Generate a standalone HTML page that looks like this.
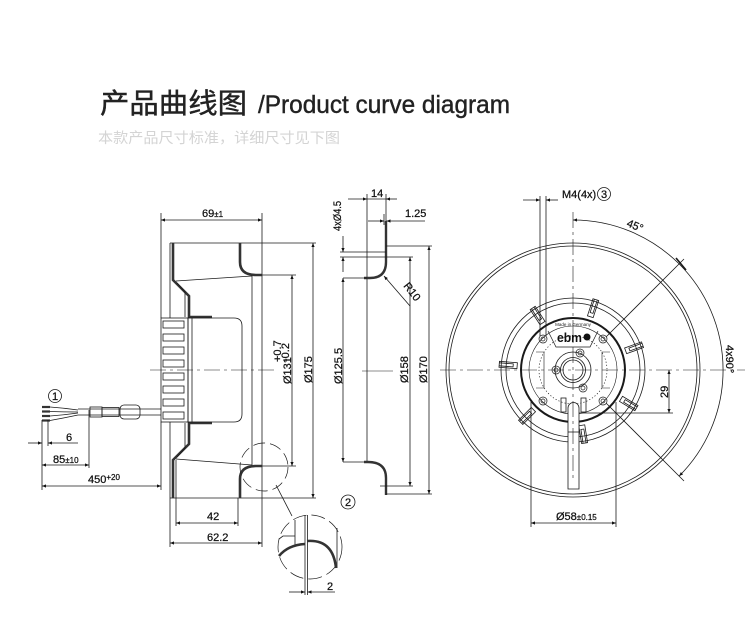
<!DOCTYPE html>
<html><head><meta charset="utf-8">
<style>
html,body{margin:0;padding:0;background:#fff;}
svg{display:block}
.t{font-family:"Liberation Sans","Noto Sans CJK SC",sans-serif;}
.d{font-family:"Liberation Sans",sans-serif;font-size:11px;fill:#111;stroke:#111;stroke-width:0.25px;}
</style></head>
<body>
<svg width="750" height="633" viewBox="0 0 750 633" xmlns="http://www.w3.org/2000/svg">
<defs>
<marker id="a" viewBox="0 0 10 10" refX="10" refY="5" markerWidth="7" markerHeight="4" orient="auto-start-reverse" markerUnits="userSpaceOnUse"><path d="M0,1 L10,5 L0,9z" fill="#111"/></marker>
</defs>

<!-- Title -->
<text class="t" x="100" y="113" font-size="28" fill="#222" stroke="#222" stroke-width="0.4" textLength="147" lengthAdjust="spacingAndGlyphs">产品曲线图</text>
<text class="t" x="258" y="113" font-size="25" fill="#222" stroke="#222" stroke-width="0.4" textLength="252" lengthAdjust="spacingAndGlyphs">/Product curve diagram</text>
<text class="t" x="98" y="143" font-size="14.5" fill="#d4d4d4" textLength="242" lengthAdjust="spacingAndGlyphs">本款产品尺寸标准，详细尺寸见下图</text>

<g stroke="#1a1a1a" stroke-width="0.8" fill="none">
<!-- ===== LEFT DRAWING ===== -->
<line x1="161" y1="220" x2="262" y2="220" marker-start="url(#a)" marker-end="url(#a)"/>
<line x1="161" y1="213" x2="161" y2="318"/>
<line x1="161" y1="422" x2="161" y2="490"/>
<line x1="262" y1="213" x2="262" y2="547"/>
<line x1="252" y1="276" x2="252" y2="465"/>
<line x1="170" y1="243" x2="170" y2="318"/>
<line x1="170" y1="422" x2="170" y2="547"/>
<line x1="176" y1="460" x2="176" y2="526"/>
<line x1="238" y1="498" x2="238" y2="526"/>
<line x1="170" y1="243" x2="316" y2="243"/>
<line x1="170" y1="498" x2="316" y2="498"/>
<path d="M173,243 L173,280 L189,296 L189,317 L212,317" stroke-width="2.6" stroke="#333"/>
<path d="M173,498 L173,460 L189,444 L189,423 L212,423" stroke-width="2.6" stroke="#333"/>
<path d="M177,283 L185,292 L185,317"/>
<path d="M177,457 L185,448 L185,423"/>
<path d="M240,243 L240,262 Q240,275 256,275 L262,275" stroke-width="2.6" stroke="#333"/>
<path d="M240,498 L240,479 Q240,466 256,466 L262,466" stroke-width="2.6" stroke="#333"/>
<line x1="262" y1="275" x2="296" y2="275"/>
<line x1="262" y1="466" x2="296" y2="466"/>
<line x1="176" y1="281" x2="252" y2="276"/>
<line x1="176" y1="459" x2="252" y2="465"/>
<path d="M188,318 L234,318 Q242,318 242,326 L242,414 Q242,422 234,422 L188,422 Z"/>
<line x1="192" y1="318" x2="192" y2="422"/>
<rect x="161" y="318" width="27" height="104"/>
<rect x="163" y="321" width="21" height="7"/>
<rect x="163" y="334" width="21" height="7"/>
<rect x="163" y="347" width="21" height="7"/>
<rect x="163" y="360" width="21" height="7"/>
<rect x="163" y="373" width="21" height="7"/>
<rect x="163" y="386" width="21" height="7"/>
<rect x="163" y="399" width="21" height="7"/>
<rect x="163" y="412" width="21" height="7"/>
<line x1="292" y1="275" x2="292" y2="466" marker-start="url(#a)" marker-end="url(#a)"/>
<line x1="313" y1="243" x2="313" y2="498" marker-start="url(#a)" marker-end="url(#a)"/>
<line x1="150" y1="370" x2="276" y2="370" stroke-dasharray="16 4 3 4" stroke-width="0.6"/>
<circle cx="264" cy="467" r="24" stroke-dasharray="12 5" stroke-width="0.7"/>
<line x1="276" y1="485" x2="292" y2="516"/>
<line x1="176" y1="523" x2="238" y2="523" marker-start="url(#a)" marker-end="url(#a)"/>
<line x1="170" y1="543" x2="262" y2="543" marker-start="url(#a)" marker-end="url(#a)"/>

<!-- wires -->
<circle cx="55" cy="396" r="6.5"/>
<g stroke-width="2.2" stroke="#333">
<line x1="42" y1="407" x2="50" y2="407"/>
<line x1="42" y1="411.5" x2="50" y2="411.5"/>
<line x1="42" y1="416" x2="50" y2="416"/>
<line x1="42" y1="420.5" x2="50" y2="420.5"/>
</g>
<path d="M50,407 Q64,408 78,410 M50,411.5 Q64,412 78,412 M50,416 Q64,415 78,413 M50,420.5 Q64,418 78,415"/>
<line x1="78" y1="409" x2="161" y2="409"/>
<line x1="78" y1="415" x2="161" y2="415"/>
<rect x="90" y="407" width="12" height="10"/>
<rect x="102" y="407.5" width="17" height="9"/>
<rect x="120" y="405" width="20" height="14" rx="4"/>
<line x1="42" y1="420" x2="42" y2="490"/>
<line x1="48" y1="420" x2="48" y2="446"/>
<line x1="89" y1="410" x2="89" y2="468"/>
<line x1="28" y1="443" x2="42" y2="443" marker-end="url(#a)"/>
<line x1="78" y1="443" x2="48" y2="443" marker-end="url(#a)"/>
<line x1="42" y1="465" x2="89" y2="465" marker-start="url(#a)" marker-end="url(#a)"/>
<line x1="42" y1="486" x2="161" y2="486" marker-start="url(#a)" marker-end="url(#a)"/>

<!-- detail 2 -->
<circle cx="310" cy="547" r="32" stroke-dasharray="14 5" stroke-width="0.7"/>
<line x1="295" y1="520" x2="295" y2="545"/>
<line x1="305" y1="515" x2="305" y2="595"/>
<line x1="307.5" y1="515" x2="307.5" y2="595"/>
<line x1="337" y1="528" x2="337" y2="568"/>
<path d="M279,556 Q288,545 305,544" stroke-width="2.6" stroke="#333"/>
<path d="M307,541 Q333,539 336,568" stroke-width="2.6" stroke="#333"/>
<path d="M279,539 L283,536 L295,536"/>
<line x1="289" y1="592" x2="305" y2="592" marker-end="url(#a)"/>
<line x1="335" y1="592" x2="307.5" y2="592" marker-end="url(#a)"/>

<!-- ===== MIDDLE DRAWING ===== -->
<line x1="367" y1="194" x2="367" y2="462"/>
<line x1="386" y1="194" x2="386" y2="222"/>
<line x1="384" y1="214" x2="384" y2="225"/>
<line x1="348" y1="199" x2="367" y2="199" marker-end="url(#a)"/>
<line x1="397" y1="199" x2="386" y2="199" marker-end="url(#a)"/>
<line x1="367" y1="199" x2="386" y2="199"/>
<line x1="368" y1="221" x2="384" y2="221" marker-end="url(#a)"/>
<line x1="425" y1="221" x2="386.5" y2="221" marker-end="url(#a)"/>
<path d="M386,221 L386,262 Q386,278 370,278 L364,278" stroke-width="2.4" stroke="#333"/>
<line x1="343" y1="278" x2="367" y2="278"/>
<line x1="386" y1="246" x2="432" y2="246"/>
<line x1="340" y1="252" x2="386" y2="252"/>
<line x1="340" y1="257" x2="413" y2="257"/>
<line x1="343" y1="236" x2="343" y2="252" marker-end="url(#a)"/>
<line x1="343" y1="272" x2="343" y2="257" marker-end="url(#a)"/>
<line x1="343" y1="278" x2="343" y2="462" marker-start="url(#a)" marker-end="url(#a)"/>
<line x1="343" y1="462" x2="368" y2="462"/>
<path d="M364,462 L368,462 Q386,462 386,478 L386,495" stroke-width="2.4" stroke="#333"/>
<line x1="380" y1="486" x2="413" y2="486"/>
<line x1="386" y1="494" x2="432" y2="494"/>
<line x1="410" y1="257" x2="410" y2="486" marker-start="url(#a)" marker-end="url(#a)"/>
<line x1="429" y1="246" x2="429" y2="494" marker-start="url(#a)" marker-end="url(#a)"/>
<line x1="410" y1="306" x2="384" y2="276" marker-end="url(#a)"/>
<line x1="362" y1="371" x2="393" y2="371" stroke-width="0.6"/>
<circle cx="348" cy="502" r="7"/>

<!-- ===== RIGHT DRAWING ===== -->
<circle cx="573" cy="370" r="127"/>
<circle cx="573" cy="370" r="124"/>
<circle cx="573" cy="370" r="72"/>
<circle cx="573" cy="370" r="67"/>
<circle cx="573" cy="370" r="52" stroke-width="2"/>
<circle cx="573" cy="370" r="44" stroke-width="0.6"/>
<circle cx="573" cy="370" r="34" stroke-width="0.7" stroke-dasharray="1.2 2"/>
<circle cx="573" cy="370" r="18"/>
<circle cx="573" cy="370" r="12.5"/>
<circle cx="573" cy="370" r="10"/>
<path d="M548,331 L556,347 L590,347 L598,331" stroke-width="0.7"/>
<path d="M536,352 L544,352 L544,388 L536,388" stroke-width="0.6"/>
<path d="M610,352 L602,352 L602,388 L610,388" stroke-width="0.6"/>
<g stroke-width="0.7">
<circle cx="580" cy="353" r="4"/><circle cx="580" cy="353" r="2"/>
<circle cx="556" cy="370" r="4"/><circle cx="556" cy="370" r="2"/>
<circle cx="583" cy="388" r="4"/><circle cx="583" cy="388" r="2"/>
<circle cx="543" cy="339" r="4"/><circle cx="543" cy="339" r="2"/>
<circle cx="603" cy="339" r="4"/><circle cx="603" cy="339" r="2"/>
<circle cx="543" cy="401" r="4"/><circle cx="543" cy="401" r="2"/>
<circle cx="603" cy="401" r="4"/><circle cx="603" cy="401" r="2"/>
</g>
<!-- slots -->
<g transform="translate(573,370)" stroke-width="0.8">
<g transform="rotate(-175.6)"><rect x="56" y="-3" width="18" height="6"/><path d="M74,-1.5 L60,-1.5 L60,1.5 L74,1.5"/></g>
<g transform="rotate(-123)"><rect x="56" y="-3" width="18" height="6"/><path d="M74,-1.5 L60,-1.5 L60,1.5 L74,1.5"/></g>
<g transform="rotate(-72)"><rect x="56" y="-3" width="18" height="6"/><path d="M74,-1.5 L60,-1.5 L60,1.5 L74,1.5"/></g>
<g transform="rotate(-20)"><rect x="56" y="-3" width="18" height="6"/><path d="M74,-1.5 L60,-1.5 L60,1.5 L74,1.5"/></g>
<g transform="rotate(31)"><rect x="56" y="-3" width="18" height="6"/><path d="M74,-1.5 L60,-1.5 L60,1.5 L74,1.5"/></g>
<g transform="rotate(81)"><rect x="56" y="-3" width="18" height="6"/><path d="M74,-1.5 L60,-1.5 L60,1.5 L74,1.5"/></g>
<g transform="rotate(135)"><rect x="56" y="-3" width="18" height="6"/><path d="M74,-1.5 L60,-1.5 L60,1.5 L74,1.5"/></g>
</g>
<!-- cable -->
<path d="M568,489 L568,408 A5.5,5.5 0 0 1 579,408 L579,489 Z" fill="#fff"/>
<line x1="568" y1="432" x2="579" y2="432"/>
<rect x="561" y="398" width="5" height="14"/>
<rect x="581" y="398" width="5" height="14"/>
<!-- centerlines -->
<line x1="573" y1="212" x2="573" y2="478" stroke-dasharray="16 4 3 4" stroke-width="0.6"/>
<line x1="440" y1="370" x2="745" y2="370" stroke-dasharray="16 4 3 4" stroke-width="0.6"/>
<!-- M4 -->
<line x1="540" y1="196" x2="540" y2="336"/>
<line x1="546" y1="196" x2="546" y2="336"/>
<line x1="523" y1="200" x2="540" y2="200" marker-end="url(#a)"/>
<line x1="558" y1="200" x2="546" y2="200" marker-end="url(#a)"/>
<circle cx="604" cy="194" r="6.5"/>
<!-- angle arcs -->
<path d="M679.1,263.9 A150,150 0 0 0 573,220" marker-end="url(#a)"/>
<path d="M679.1,263.9 A150,150 0 0 1 679.1,476.1" marker-end="url(#a)"/>
<line x1="676" y1="258" x2="686" y2="270" stroke-width="1.6"/>
<line x1="606" y1="337" x2="684" y2="259"/>
<line x1="606" y1="403" x2="684" y2="481"/>
<!-- 29 -->
<line x1="579" y1="413" x2="673" y2="413"/>
<line x1="669" y1="370" x2="669" y2="413" marker-start="url(#a)" marker-end="url(#a)"/>
<!-- 58 -->
<line x1="531" y1="402" x2="531" y2="527"/>
<line x1="616" y1="402" x2="616" y2="527"/>
<line x1="531" y1="523" x2="616" y2="523" marker-start="url(#a)" marker-end="url(#a)"/>
</g>

<!-- logo -->
<text class="t" x="573" y="326" font-size="4.5" text-anchor="middle" fill="#222">Made in Germany</text>
<text x="557" y="342" font-family="Liberation Sans, sans-serif" font-weight="bold" font-size="13" fill="#111" textLength="25" lengthAdjust="spacingAndGlyphs">ebm</text>
<circle cx="587" cy="337" r="3.5" fill="#111"/>

<!-- dimension texts -->
<text class="d" x="202" y="217">69<tspan font-size="8">±1</tspan></text>
<text class="d" x="207" y="520">42</text>
<text class="d" x="207" y="541">62.2</text>
<text class="d" x="66" y="441">6</text>
<text class="d" x="53" y="463">85<tspan font-size="8">±10</tspan></text>
<text class="d" x="88" y="483">450<tspan font-size="8" dy="-3">+20</tspan></text>
<text class="d" x="55" y="400" font-size="10" text-anchor="middle">1</text>
<text class="d" transform="translate(291,384) rotate(-90)">Ø131</text>
<text class="d" transform="translate(281,362) rotate(-90)" font-size="7">+0.7</text>
<text class="d" transform="translate(289,362) rotate(-90)" font-size="7">-0.2</text>
<text class="d" transform="translate(312,383) rotate(-90)">Ø175</text>
<text class="d" x="327" y="590">2</text>
<text class="d" transform="translate(341,231) rotate(-90)" textLength="30" lengthAdjust="spacingAndGlyphs">4xØ4.5</text>
<text class="d" x="371" y="197">14</text>
<text class="d" x="405" y="217">1.25</text>
<text class="d" transform="translate(403,286) rotate(52)">R10</text>
<text class="d" transform="translate(342,384) rotate(-90)">Ø125.5</text>
<text class="d" transform="translate(408,383) rotate(-90)">Ø158</text>
<text class="d" transform="translate(427,383) rotate(-90)">Ø170</text>
<text class="d" x="348" y="506" font-size="10" text-anchor="middle">2</text>
<text class="d" x="562" y="198">M4(4x)</text>
<text class="d" x="604" y="198" font-size="10" text-anchor="middle">3</text>
<text class="d" transform="translate(626,226) rotate(22)">45°</text>
<text class="d" transform="translate(726,345) rotate(90)">4x90°</text>
<text class="d" transform="translate(668,398) rotate(-90)">29</text>
<text class="d" x="556" y="520">Ø58<tspan font-size="8">±0.15</tspan></text>
</svg>
</body></html>
